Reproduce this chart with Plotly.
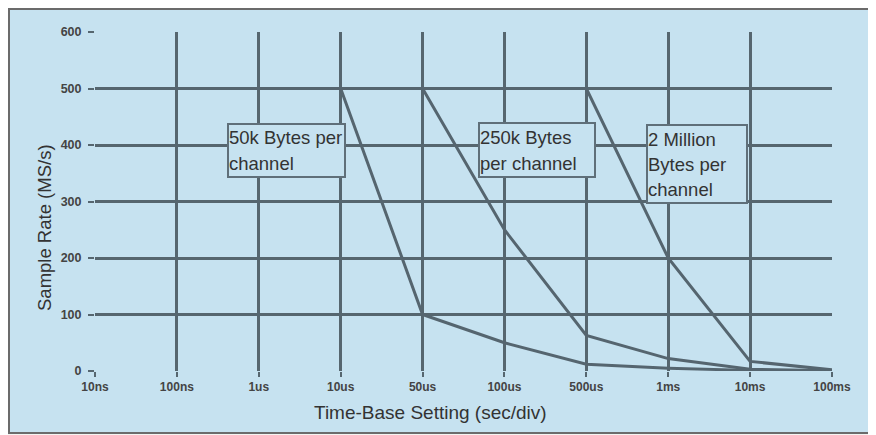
import plotly.graph_objects as go

# ---- data ----
time_base = ["10ns", "100ns", "1us", "10us", "50us", "100us", "500us", "1ms", "10ms", "100ms"]
rate_50k = [500, 500, 500, 500, 100, 50, 12, 5, 1, 0.5]
rate_250k = [500, 500, 500, 500, 500, 250, 63, 22, 3, 0.5]
rate_2m = [500, 500, 500, 500, 500, 500, 500, 200, 17, 2]
y_ticks = [0, 100, 200, 300, 400, 500, 600]

# ---- layout geometry (page pixels; page body has an 8px margin) ----
W, H = 876, 435
OFF = 8
L, R, T, B = 95, 832, 32, 371  # plot area edges on the page


def px(x):
    return (x - L) / (R - L)


def py(y):
    return (B - y) / (B - T)


BG = "#c6e2f0"
GRID = "#56666f"
LINE = "#55656f"
TXT = "#333333"
FONT = "Arial, Liberation Sans, sans-serif"

fig = go.Figure()
for vals in (rate_50k, rate_250k, rate_2m):
    fig.add_trace(go.Scatter(x=time_base, y=vals, mode="lines",
                             line=dict(color=LINE, width=3),
                             showlegend=False, hoverinfo="skip"))

shapes = [
    # outer frame
    dict(type="rect", xref="paper", yref="paper",
         x0=px(9), x1=px(900), y0=py(433), y1=py(9),
         fillcolor=BG, line=dict(color="#6b6b6b", width=2), layer="below"),
]

boxes = [
    (228, 345, 124, 177, ["50k Bytes per", "channel"], [137, 163]),
    (479, 595, 123, 177, ["250k Bytes", "per channel"], [137, 163]),
    (647, 747, 125, 203, ["2 Million", "Bytes per", "channel"], [139, 164, 189]),
]

annotations = []
for x0, x1, y0, y1, lines, ys in boxes:
    shapes.append(dict(type="rect", xref="paper", yref="paper",
                       x0=px(x0), x1=px(x1), y0=py(y1), y1=py(y0),
                       fillcolor=BG, line=dict(color="#5f6f79", width=2), layer="above"))
    for t, yy in zip(lines, ys):
        annotations.append(dict(text=t, xref="paper", yref="paper",
                                x=px(x0 - 1), y=py(yy), xanchor="left", yanchor="middle",
                                showarrow=False, font=dict(family=FONT, size=18.5, color=TXT)))

annotations.append(dict(text="Time-Base Setting (sec/div)", xref="paper", yref="paper",
                        x=px(430), y=py(412), xanchor="center", yanchor="middle",
                        showarrow=False, font=dict(family=FONT, size=19, color=TXT)))
annotations.append(dict(text="Sample Rate (MS/s)", xref="paper", yref="paper",
                        x=px(45), y=py(228), xanchor="center", yanchor="middle",
                        textangle=-90, showarrow=False,
                        font=dict(family=FONT, size=18.5, color=TXT)))

fig.update_layout(
    width=W, height=H,
    margin=dict(l=L - OFF, r=W - (R - OFF), t=T - OFF, b=H - (B - OFF)),
    paper_bgcolor="#f4f4f2",
    plot_bgcolor=BG,
    shapes=shapes,
    annotations=annotations,
    xaxis=dict(type="category", range=[0, len(time_base) - 1],
               showgrid=True, gridcolor=GRID, gridwidth=2.5,
               ticks="outside", ticklen=5, tickcolor=GRID, tickwidth=2,
               tickfont=dict(family=FONT, size=12, color="#444444", weight="bold"),
               showline=False, zeroline=False),
    yaxis=dict(range=[0, 600], tickvals=y_ticks,
               showgrid=True, gridcolor=GRID, gridwidth=2.5,
               ticks="outside", ticklen=6, tickcolor=GRID, tickwidth=2,
               ticklabelstandoff=4,
               tickfont=dict(family=FONT, size=12.5, color="#444444", weight="bold"),
               showline=False, zeroline=False),
)

fig.write_html("out.html")
